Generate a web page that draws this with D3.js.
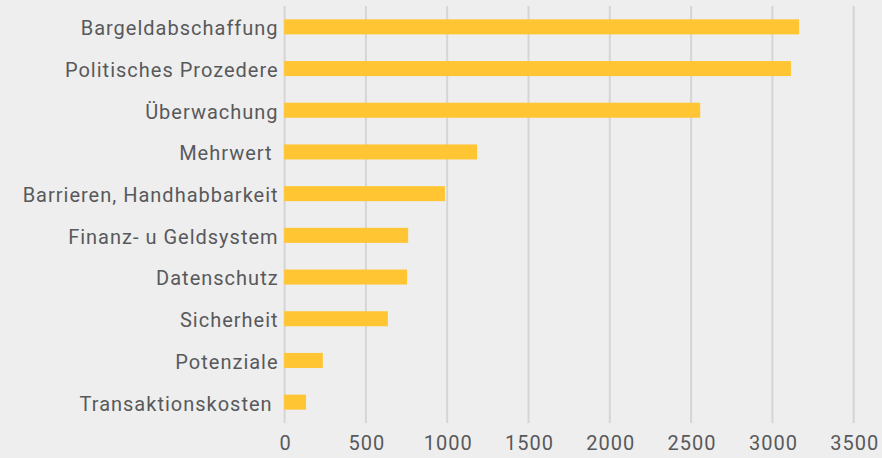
<!DOCTYPE html>
<html><head><meta charset="utf-8">
<script src="https://cdn.jsdelivr.net/npm/d3@7"></script>
<style>
html,body{margin:0;padding:0;background:#eeeeee;}
svg{display:block;}
text{font-family:Roboto, "Noto Sans", sans-serif;}
</style></head>
<body><svg id="c" width="882" height="458"></svg>
<script>
const categories = ["Bargeldabschaffung","Politisches Prozedere","Überwachung","Mehrwert ","Barrieren, Handhabbarkeit","Finanz- u Geldsystem","Datenschutz","Sicherheit","Potenziale","Transaktionskosten "];
const values = [3164, 3114, 2556, 1184, 986, 760, 753, 635, 235, 132];
const xTicks = [0, 500, 1000, 1500, 2000, 2500, 3000, 3500];

const svg = d3.select("#c");
const W = 882, H = 458;
const m = {left: 284.6, right: 28.3, top: 6, bottom: 35};
svg.append("rect").attr("width", W).attr("height", H).attr("fill", "#eeeeee");

const x = d3.scaleLinear().domain([0, 3500]).range([m.left, W - m.right]);
const y = d3.scaleBand().domain(categories).range([m.top, H - m.bottom]).paddingInner(0.64).paddingOuter(0.32);

// grid
svg.append("g").selectAll("line").data(xTicks).join("line")
  .attr("x1", d => x(d)).attr("x2", d => x(d))
  .attr("y1", m.top).attr("y2", H - m.bottom)
  .attr("stroke", "#d5d5d5").attr("stroke-width", 2);

// bars
svg.append("g").selectAll("rect").data(values).join("rect")
  .attr("x", x(0) - 0.5)
  .attr("y", (d, i) => y(categories[i]))
  .attr("width", d => x(d) - x(0) + 0.5)
  .attr("height", y.bandwidth())
  .attr("fill", "#ffc533");

// x axis labels
const xAxis = d3.axisBottom(x).tickValues(xTicks).tickFormat(d3.format("d")).tickSize(0).tickPadding(13);
const gx = svg.append("g").attr("transform", `translate(0,${H - m.bottom})`).call(xAxis);
gx.select(".domain").remove();
gx.selectAll("text").attr("fill", "#58595b").style("font-size", "20px").attr("font-family", "Roboto")
  .style("letter-spacing", "1px").attr("dx", "0.5px");

// y axis labels
const yAxis = d3.axisLeft(y).tickSize(0).tickPadding(6);
const gy = svg.append("g").attr("transform", `translate(${m.left},0)`).call(yAxis);
gy.select(".domain").remove();
gy.selectAll("text").attr("fill", "#58595b").style("font-size", "20px").attr("font-family", "Roboto")
  .style("letter-spacing", "1px").attr("dy", "0.42em")
  .style("white-space", "pre").attr("xml:space", "preserve");
</script></body></html>
